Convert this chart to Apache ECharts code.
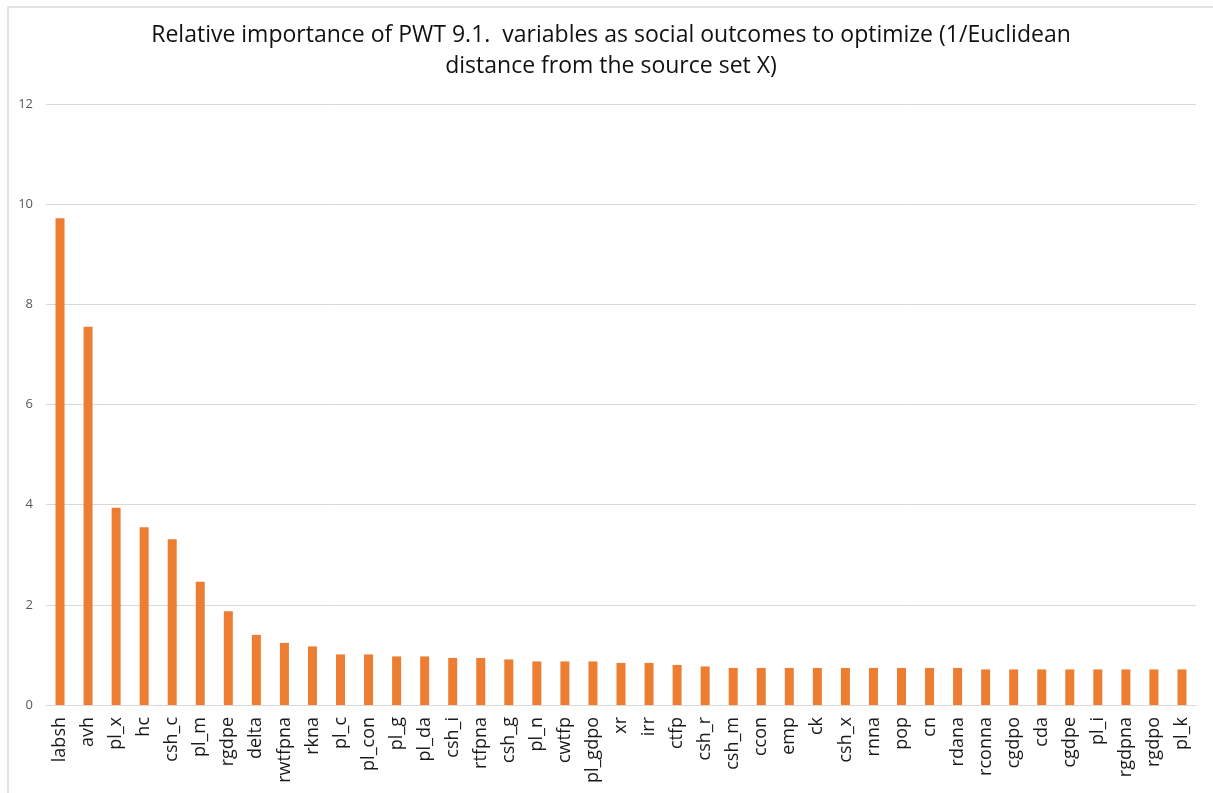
<!DOCTYPE html>
<html>
<head>
<meta charset="utf-8">
<script src="https://cdn.jsdelivr.net/npm/echarts@6/dist/echarts.min.js"></script>
<style>
  html, body { margin: 0; padding: 0; background: #fff; }
  #chart { width: 1213px; height: 793px; }
</style>
</head>
<body>
<div id="chart"></div>
<script>
const variables = [
  'labsh', 'avh', 'pl_x', 'hc', 'csh_c', 'pl_m', 'rgdpe', 'delta', 'rwtfpna', 'rkna',
  'pl_c', 'pl_con', 'pl_g', 'pl_da', 'csh_i', 'rtfpna', 'csh_g', 'pl_n', 'cwtfp', 'pl_gdpo',
  'xr', 'irr', 'ctfp', 'csh_r', 'csh_m', 'ccon', 'emp', 'ck', 'csh_x', 'rnna',
  'pop', 'cn', 'rdana', 'rconna', 'cgdpo', 'cda', 'cgdpe', 'pl_i', 'rgdpna', 'rgdpo', 'pl_k'
];

const importance = [
  9.72, 7.55, 3.94, 3.55, 3.31, 2.46, 1.87, 1.40, 1.24, 1.17,
  1.01, 1.01, 0.97, 0.97, 0.94, 0.94, 0.91, 0.87, 0.87, 0.87,
  0.84, 0.84, 0.80, 0.77, 0.74, 0.74, 0.74, 0.74, 0.74, 0.74,
  0.74, 0.74, 0.74, 0.71, 0.71, 0.71, 0.71, 0.71, 0.71, 0.71, 0.71
];

const yTicks = [0, 2, 4, 6, 8, 10, 12];

const titleText = 'Relative importance of PWT 9.1.  variables as social outcomes to optimize (1/Euclidean\ndistance from the source set X)';

const chart = echarts.init(document.getElementById('chart'));

chart.setOption({
  animation: false,
  textStyle: { fontFamily: 'Open Sans' },
  title: {
    text: titleText,
    left: 606,
    top: 15,
    textAlign: 'center',
    textStyle: {
      fontFamily: 'Open Sans',
      fontSize: 23,
      fontWeight: 'normal',
      lineHeight: 31,
      color: '#111'
    }
  },
  graphic: [{
    type: 'rect',
    shape: { x: 8, y: 7, width: 1260, height: 900 },
    style: { fill: 'none', stroke: '#d9d9d9', lineWidth: 1.5 },
    silent: true
  }],
  grid: {
    left: 46,
    right: 17,
    top: 104,
    bottom: 88
  },
  xAxis: {
    type: 'category',
    data: variables,
    axisLine: { lineStyle: { color: '#d9d9d9', width: 1 } },
    axisTick: { show: false },
    axisLabel: {
      rotate: 90,
      interval: 0,
      margin: 12,
      fontSize: 18,
      color: '#1a1a1a'
    }
  },
  yAxis: {
    type: 'value',
    min: yTicks[0],
    max: yTicks[yTicks.length - 1],
    interval: 2,
    axisLine: { show: false },
    axisTick: { show: false },
    axisLabel: { fontSize: 13, color: '#595959', margin: 13 },
    splitLine: { lineStyle: { color: '#d9d9d9', width: 1 } }
  },
  series: [{
    name: 'Importance',
    type: 'bar',
    barWidth: 9,
    itemStyle: { color: '#ED7D31' },
    data: importance
  }]
});
</script>
</body>
</html>
